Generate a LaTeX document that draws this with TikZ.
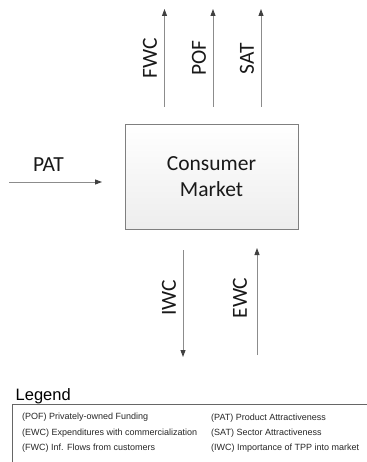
\documentclass[tikz,border=0pt]{standalone}
\usepackage{fontspec}
\setmainfont{Carlito}
\newfontfamily\legfont{Liberation Sans}
\usetikzlibrary{arrows.meta,shadows}
\definecolor{linegray}{HTML}{8C8C8C}
\definecolor{tipgray}{HTML}{404040}
\definecolor{boxgray}{HTML}{7F7F7F}
\tikzset{
  flow/.style={draw=linegray, line width=0.9pt, -{Triangle[length=7pt,width=5pt,color=tipgray]}},
  lbl/.style={font=\fontsize{21.5}{22}\selectfont, text=black!90, inner sep=0pt},
  vlbl/.style={lbl, rotate=90},
  legtxt/.style={font=\legfont\fontsize{9}{10}\selectfont, text=black!85, anchor=west, inner sep=0pt},
}
\begin{document}
\begin{tikzpicture}[x=1pt,y=-1pt]
\useasboundingbox (0,0) rectangle (366,462);
% box
\node[draw=boxgray, line width=0.9pt, top color=white, bottom color=black!7,
      drop shadow={shadow xshift=1.2pt, shadow yshift=-1.2pt, fill=black!30, opacity=0.6},
      minimum width=173pt, minimum height=105pt, inner sep=0pt, text=black!90,
      align=center, font=\fontsize{21.5}{26}\selectfont] (cm) at (211.5,176.5) {Consumer\\Market};
% top arrows
\coordinate (f0) at (164.5,107); \coordinate (f1) at (164.5,9);
\coordinate (p0) at (213,107); \coordinate (p1) at (213,9);
\coordinate (s0) at (261,107); \coordinate (s1) at (261,9);
\draw[flow] (f0) -- (f1);
\draw[flow] (p0) -- (p1);
\draw[flow] (s0) -- (s1);
\node[vlbl] (fwc) at (150,58) {FWC};
\node[vlbl] (pof) at (199,58) {POF};
\node[vlbl] (sat) at (247,59) {SAT};
% PAT
\coordinate (a0) at (9,182); \coordinate (a1) at (102,182);
\draw[flow] (a0) -- (a1);
\node[lbl] (pat) at (48.5,165) {PAT};
% bottom arrows
\coordinate (i0) at (183,250); \coordinate (i1) at (183,357);
\coordinate (e0) at (257,355); \coordinate (e1) at (257,248);
\draw[flow] (i0) -- (i1);
\draw[flow] (e0) -- (e1);
\node[vlbl] (iwc) at (169,298) {IWC};
\node[vlbl] (ewc) at (240,298) {EWC};
% legend
\node[anchor=base west, inner sep=0pt, font=\legfont\fontsize{16.5}{17}\selectfont] (leg) at (15.5,400) {Legend};
\draw[draw=black!60, line width=0.8pt] (380,404) -- (12.5,404) -- (12.5,475);
\node[legtxt] (l1) at (22,417) {(POF) Privately-owned Funding};
\node[legtxt] (l2) at (22,433) {(EWC) Expenditures with commercialization};
\node[legtxt] (l3) at (22,448) {(FWC) Inf. Flows from customers};
\node[legtxt] (l4) at (211,418) {(PAT) Product Attractiveness};
\node[legtxt] (l5) at (211,433) {(SAT) Sector Attractiveness};
\node[legtxt] (l6) at (211,448) {(IWC) Importance of TPP into market};
\end{tikzpicture}
\end{document}
